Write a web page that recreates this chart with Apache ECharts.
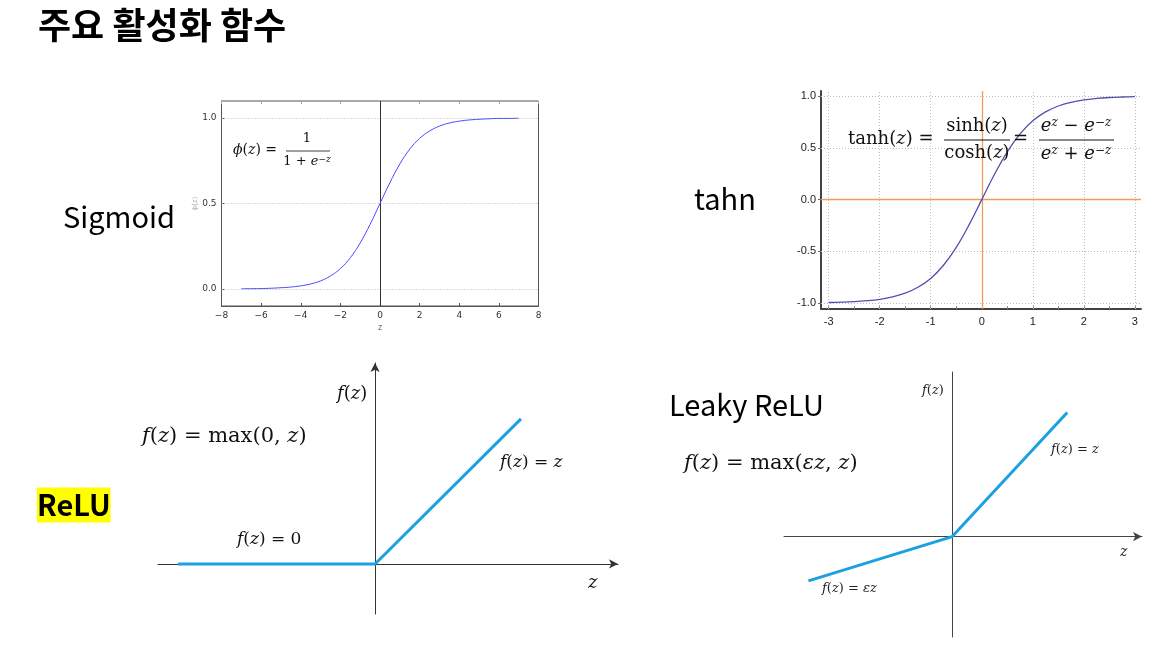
<!DOCTYPE html>
<html><head><meta charset="utf-8">
<script src="https://cdn.jsdelivr.net/npm/echarts@6/dist/echarts.min.js"></script>
<style>html,body{margin:0;padding:0;background:#fff}#c{width:1176px;height:648px}</style>
</head><body><div id="c"></div>
<script>
// ---------- data ----------
const sigmoidZ   = [-7,-6.5,-6,-5.5,-5,-4.5,-4,-3.5,-3,-2.5,-2,-1.5,-1,-0.5,0,0.5,1,1.5,2,2.5,3,3.5,4,4.5,5,5.5,6,6.5,7];
const sigmoidPhi = [0.001,0.0015,0.002,0.004,0.007,0.011,0.018,0.029,0.047,0.076,0.119,0.182,0.269,0.378,0.5,0.622,0.731,0.818,0.881,0.924,0.953,0.971,0.982,0.989,0.993,0.996,0.998,0.998,0.999];
const sigmoidXTicks = [-8,-6,-4,-2,0,2,4,6,8];
const sigmoidYTicks = [0,0.5,1];

const tanhZ   = [-3,-2.75,-2.5,-2.25,-2,-1.75,-1.5,-1.25,-1,-0.75,-0.5,-0.25,0,0.25,0.5,0.75,1,1.25,1.5,1.75,2,2.25,2.5,2.75,3];
const tanhVal = [-0.995,-0.992,-0.987,-0.978,-0.964,-0.941,-0.905,-0.848,-0.762,-0.635,-0.462,-0.245,0,0.245,0.462,0.635,0.762,0.848,0.905,0.941,0.964,0.978,0.987,0.992,0.995];
const tanhXTicks = [-3,-2,-1,0,1,2,3];
const tanhXMinor = [-3,-2.5,-2,-1.5,-1,-0.5,0,0.5,1,1.5,2,2.5,3];
const tanhYTicks = [-1,-0.5,0,0.5,1];
const tanhXRange = [-3.15, 3.12];
const tanhYRange = [-1.058, 1.05];

const reluZ  = [-5.4, 0, 4];
const reluF  = [0, 0, 4];
const leakyZ = [-5, 0, 4];
const leakyF = [-1.43, 0, 4];

// ---------- helpers ----------
const pair = (xs, ys) => xs.map((x, i) => [x, ys[i]]);
const minus = v => String(v).replace('-', '\u2212');
const SERIF = 'DejaVu Serif';
function rich(size, color) {
  return {
    n:   {fontFamily: SERIF, fontSize: size, fill: color, fontStyle: 'normal'},
    i:   {fontFamily: SERIF, fontSize: size, fill: color, fontStyle: 'italic'},
    sup: {fontFamily: SERIF, fontSize: Math.round(size * 0.68), fill: color, fontStyle: 'italic', verticalAlign: 'top'}
  };
}
function T(x, y, text, size, opt) {
  opt = opt || {};
  return {
    type: 'text', x: x, y: y, z: 100,
    style: Object.assign({
      text: text, fontSize: size, fontFamily: opt.family || SERIF,
      fontWeight: opt.weight || 'normal', fill: opt.color || '#111',
      align: opt.align || 'left', verticalAlign: 'middle',
      rich: rich(size, opt.color || '#111')
    }, opt.extra || {})
  };
}
function bar(x1, x2, y, w) {
  return {type: 'line', z: 100, shape: {x1: x1, y1: y, x2: x2, y2: y}, style: {stroke: '#111', lineWidth: w || 1}};
}

const dotted = {color: '#bdbdbd', type: [1, 2], width: 1};
const orange = {color: '#f29a5e', type: 'solid', width: 1.3};

const option = {
  animation: false,
  backgroundColor: '#fff',
  grid: [
    {left: 221.5, top: 101, width: 317, height: 205, show: true, borderColor: '#555', borderWidth: 1},
    {left: 821, top: 91, width: 320, height: 218},
    {left: 158, top: 363, width: 460, height: 251},
    {left: 784, top: 372, width: 358, height: 265}
  ],
  xAxis: [
    {gridIndex: 0, type: 'value', min: -8, max: 8, interval: 2,
     axisLine: {show: true, onZero: false, lineStyle: {color: '#555'}},
     axisTick: {inside: true, length: 3, lineStyle: {color: '#555'}},
     axisLabel: {fontSize: 9, color: '#333', fontFamily: 'DejaVu Sans', margin: 5, formatter: v => minus(v)},
     splitLine: {show: false},
     name: 'z', nameLocation: 'middle', nameGap: 18, nameTextStyle: {fontSize: 8, color: '#777', fontFamily: 'DejaVu Sans'}},
    {gridIndex: 0, type: 'value', position: 'top', min: -8, max: 8, interval: 2,
     axisLine: {show: false, onZero: false}, axisTick: {inside: true, length: 3, lineStyle: {color: '#aaa'}},
     axisLabel: {show: false}, splitLine: {show: false}},
    {gridIndex: 1, type: 'value', min: tanhXRange[0], max: tanhXRange[1],
     axisLine: {show: true, onZero: false, lineStyle: {color: '#444', width: 2}},
     axisTick: {show: true, inside: true, length: 3, customValues: tanhXMinor, lineStyle: {color: '#888'}},
     axisLabel: {fontSize: 11, color: '#222', fontFamily: 'Liberation Sans', margin: 7, customValues: tanhXTicks,
                 formatter: v => (Math.abs(v - Math.round(v)) < 1e-6 ? String(Math.round(v)) : '')},
     splitLine: {show: false}},
    {gridIndex: 2, type: 'value', min: -5.95, max: 6.66,
     axisLine: {show: true, onZero: true, symbol: ['none', 'arrow'], symbolSize: [7, 9], lineStyle: {color: '#333', width: 1}},
     axisTick: {show: false}, axisLabel: {show: false}, splitLine: {show: false}},
    {gridIndex: 3, type: 'value', min: -5.85, max: 6.6,
     axisLine: {show: true, onZero: true, symbol: ['none', 'arrow'], symbolSize: [7, 9], lineStyle: {color: '#444', width: 1}},
     axisTick: {show: false}, axisLabel: {show: false}, splitLine: {show: false}}
  ],
  yAxis: [
    {gridIndex: 0, type: 'value', min: -0.1, max: 1.1,
     axisLine: {show: true, onZero: false, lineStyle: {color: '#555'}},
     axisTick: {inside: true, length: 3, customValues: sigmoidYTicks, lineStyle: {color: '#555'}},
     axisLabel: {fontSize: 9, color: '#333', fontFamily: 'DejaVu Sans', margin: 5, customValues: sigmoidYTicks,
                 formatter: v => (sigmoidYTicks.some(t => Math.abs(t - v) < 1e-6) ? v.toFixed(1) : '')},
     splitLine: {show: false},
     name: '\u03d5(z)', nameLocation: 'middle', nameGap: 18, nameRotate: 90,
     nameTextStyle: {fontSize: 7, color: '#aaa', fontFamily: 'DejaVu Sans'}},
    {gridIndex: 1, type: 'value', min: tanhYRange[0], max: tanhYRange[1],
     axisLine: {show: true, onZero: false, lineStyle: {color: '#444', width: 2}},
     axisTick: {show: true, length: 3, customValues: tanhYTicks, lineStyle: {color: '#666'}},
     axisLabel: {fontSize: 11, color: '#222', fontFamily: 'Liberation Sans', margin: 5, customValues: tanhYTicks,
                 formatter: v => (tanhYTicks.some(t => Math.abs(t - v) < 1e-6) ? v.toFixed(1) : '')},
     splitLine: {show: false}},
    {gridIndex: 2, type: 'value', min: -1.38, max: 5.54,
     axisLine: {show: true, onZero: true, symbol: ['none', 'arrow'], symbolSize: [7, 9], lineStyle: {color: '#333', width: 1}},
     axisTick: {show: false}, axisLabel: {show: false}, splitLine: {show: false}},
    {gridIndex: 3, type: 'value', min: -3.24, max: 5.31,
     axisLine: {show: true, onZero: true, lineStyle: {color: '#444', width: 1}},
     axisTick: {show: false}, axisLabel: {show: false}, splitLine: {show: false}}
  ],
  series: [
    {type: 'line', xAxisIndex: 0, yAxisIndex: 0, data: pair(sigmoidZ, sigmoidPhi),
     showSymbol: false, smooth: 0.4, lineStyle: {color: '#4b4bff', width: 1}, z: 5,
     markLine: {silent: true, symbol: 'none', label: {show: false}, animation: false,
       data: sigmoidYTicks.map(t => ({yAxis: t, lineStyle: dotted}))
             .concat([{xAxis: 0, lineStyle: {color: '#333', type: 'solid', width: 1}}])}},
    {type: 'line', xAxisIndex: 2, yAxisIndex: 1, data: [], z: 3,
     markLine: {silent: true, symbol: 'none', label: {show: false}, animation: false, lineStyle: dotted,
       data: tanhXTicks.filter(t => t !== 0).map(t => ({xAxis: t}))
             .concat(tanhYTicks.filter(t => t !== 0).map(t => ({yAxis: t})))}},
    {type: 'line', xAxisIndex: 2, yAxisIndex: 1, data: [], z: 4,
     markLine: {silent: true, symbol: 'none', label: {show: false}, animation: false, lineStyle: orange,
       data: [
         [{coord: [0, tanhYRange[0]]}, {coord: [0, tanhYRange[1]]}],
         [{coord: [tanhXRange[0], 0]}, {coord: [tanhXRange[1], 0]}]
       ]}},
    {type: 'line', xAxisIndex: 2, yAxisIndex: 1, data: pair(tanhZ, tanhVal),
     showSymbol: false, smooth: 0.4, lineStyle: {color: '#5050b0', width: 1.3}, z: 6},
    {type: 'line', xAxisIndex: 3, yAxisIndex: 2, data: pair(reluZ, reluF),
     showSymbol: false, lineStyle: {color: '#1ba1e2', width: 3}, z: 5},
    {type: 'line', xAxisIndex: 4, yAxisIndex: 3, data: pair(leakyZ, leakyF),
     showSymbol: false, lineStyle: {color: '#1ba1e2', width: 3}, z: 5}
  ],
  graphic: [
    // title & names
    T(38, 25, '주요 활성화 함수', 36, {family: 'Noto Sans CJK KR', weight: 'bold', color: '#000'}),
    T(63, 217, 'Sigmoid', 29, {family: 'Noto Sans CJK KR', color: '#000'}),
    T(694, 199, 'tahn', 29, {family: 'Noto Sans CJK KR', color: '#000'}),
    T(669, 405, 'Leaky ReLU', 29, {family: 'Noto Sans CJK KR', color: '#000'}),
    T(37, 505, 'ReLU', 29, {family: 'Noto Sans CJK KR', weight: 'bold', color: '#000',
      extra: {backgroundColor: '#ffff00', padding: [3, 0, 3, 0]}}),

    // sigmoid formula
    T(233, 150, '{i|\u03d5}{n|(}{i|z}{n|) =}', 14),
    T(307, 139, '{n|1}', 13, {align: 'center'}),
    bar(286, 330, 151, 0.8),
    T(307, 162, '{n|1 + }{i|e}{sup|\u2212z}', 13, {align: 'center'}),

    // tanh formula
    T(848, 139, '{n|tanh(}{i|z}{n|) =}', 18),
    T(977, 126, '{n|sinh(}{i|z}{n|)}', 18, {align: 'center'}),
    bar(944, 1010, 140, 1),
    T(977, 153, '{n|cosh(}{i|z}{n|)}', 18, {align: 'center'}),
    T(1013, 139, '{n|=}', 18),
    T(1076, 126, '{i|e}{sup|z}{n| \u2212 }{i|e}{sup|\u2212z}', 18, {align: 'center'}),
    bar(1039, 1114, 140, 1),
    T(1076, 154, '{i|e}{sup|z}{n| + }{i|e}{sup|\u2212z}', 18, {align: 'center'}),

    // ReLU labels
    T(337, 394, '{i|f}{n|(}{i|z}{n|)}', 18),
    T(142, 437, '{i|f}{n|(}{i|z}{n|) = max(0, }{i|z}{n|)}', 21),
    T(500, 463, '{i|f}{n|(}{i|z}{n|) = }{i|z}', 17),
    T(237, 540, '{i|f}{n|(}{i|z}{n|) = 0}', 17),
    T(588, 583, '{i|z}', 18),

    // Leaky ReLU labels
    T(922, 391, '{i|f}{n|(}{i|z}{n|)}', 13, {color: '#222'}),
    T(684, 464, '{i|f}{n|(}{i|z}{n|) = max(}{i|\u03b5z}{n|, }{i|z}{n|)}', 21),
    T(1051, 450, '{i|f}{n|(}{i|z}{n|) = }{i|z}', 13, {color: '#222'}),
    T(822, 589, '{i|f}{n|(}{i|z}{n|) = }{i|\u03b5z}', 13, {color: '#222'}),
    T(1120, 552, '{i|z}', 14, {color: '#222'})
  ]
};
const chart = echarts.init(document.getElementById('c'), null, {renderer: 'canvas'});
chart.setOption(option);
</script></body></html>
